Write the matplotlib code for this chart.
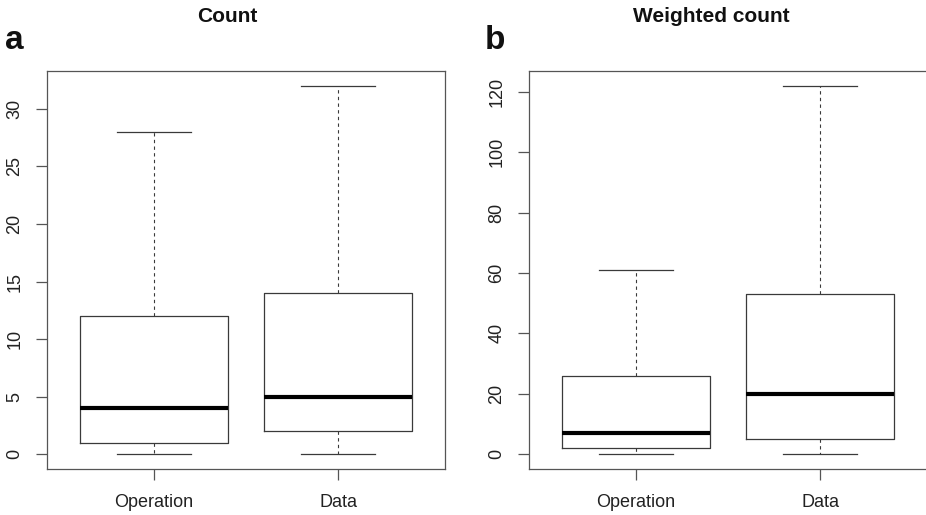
import matplotlib.pyplot as plt

plt.rcParams['font.family'] = ['Liberation Sans', 'DejaVu Sans']

# boxplot summaries (whisker low, Q1, median, Q3, whisker high)
groups = ["Operation", "Data"]

count_low = [0, 0]
count_q1 = [1, 2]
count_med = [4, 5]
count_q3 = [12, 14]
count_high = [28, 32]

wcount_low = [0, 0]
wcount_q1 = [2, 5]
wcount_med = [7, 20]
wcount_q3 = [26, 53]
wcount_high = [61, 122]

line_col = "#3a3a3a"


def make_stats(low, q1, med, q3, high):
    return [dict(label=g, whislo=a, q1=b, med=c, q3=d, whishi=e)
            for g, a, b, c, d, e in zip(groups, low, q1, med, q3, high)]


def draw(ax, stats, yticks, ymax):
    ax.bxp(stats, widths=0.8, capwidths=0.4, showfliers=False,
           boxprops=dict(color=line_col, linewidth=0.9),
           whiskerprops=dict(color=line_col, linewidth=0.8, linestyle=(0, (3, 3))),
           capprops=dict(color=line_col, linewidth=0.9),
           medianprops=dict(color="black", linewidth=3, solid_capstyle="butt"))
    ext = 0.04 * ymax
    ax.set_ylim(-ext, ymax + ext)
    ax.set_xlim(0.42, 2.58)
    ax.set_yticks(yticks)
    ax.set_yticklabels([str(v) for v in yticks], rotation=90, va="center")
    for s in ax.spines.values():
        s.set_color("#555555")
        s.set_linewidth(0.9)
    ax.tick_params(axis="both", length=8, width=0.9, color="#555555",
                   labelsize=13, labelcolor="#222222")
    ax.tick_params(axis="y", pad=9)
    ax.tick_params(axis="x", pad=10)


fig = plt.figure(figsize=(9.26, 5.15), dpi=100)
ax1 = fig.add_axes([47 / 926, 1 - 469 / 515, 398 / 926, 398 / 515])
# right panel runs off the right edge of the figure
ax2 = fig.add_axes([529 / 926, 1 - 469 / 515, 398 / 926, 398 / 515])

draw(ax1, make_stats(count_low, count_q1, count_med, count_q3, count_high),
     [0, 5, 10, 15, 20, 25, 30], max(count_high))
draw(ax2, make_stats(wcount_low, wcount_q1, wcount_med, wcount_q3, wcount_high),
     [0, 20, 40, 60, 80, 100, 120], max(wcount_high))

fig.text(227 / 926, 1 - 17 / 515, "Count", ha="center", va="center",
         fontsize=15, fontweight="bold", color="#111111")
fig.text(711 / 926, 1 - 17 / 515, "Weighted count", ha="center", va="center",
         fontsize=15, fontweight="bold", color="#111111")
fig.text(5 / 926, 1 - 49 / 515, "a", ha="left", va="baseline",
         fontsize=24, fontweight="bold", color="#111111")
fig.text(485 / 926, 1 - 49 / 515, "b", ha="left", va="baseline",
         fontsize=24, fontweight="bold", color="#111111")

plt.savefig("out.png", dpi=100)
